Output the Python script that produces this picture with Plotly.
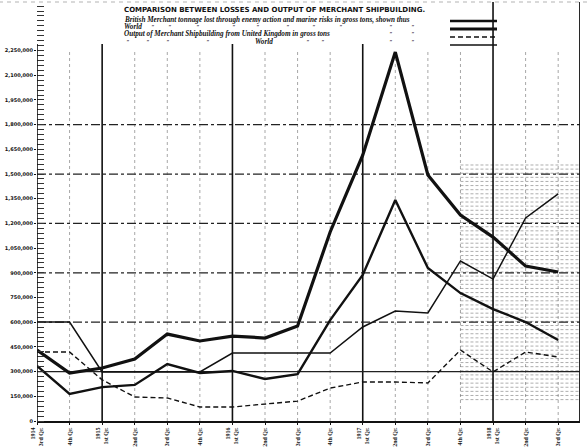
import plotly.graph_objects as go

# ---------------- data (gross tons, per quarter) ----------------
quarter_labels = ["1914<br>3rd Qr.", "4th Qr.", "1915<br>1st Qr.", "2nd Qr.", "3rd Qr.", "4th Qr.",
                  "1916<br>1st Qr.", "2nd Qr.", "3rd Qr.", "4th Qr.",
                  "1917<br>1st Qr.", "2nd Qr.", "3rd Qr.", "4th Qr.",
                  "1918<br>1st Qr.", "2nd Qr.", "3rd Qr."]
quarter_pos = list(range(len(quarter_labels)))

world_losses = [431000, 291000, 322000, 377000, 528000, 486000, 516000, 504000, 577000,
                1148000, 1615000, 2241000, 1494000, 1251000, 1117000, 941000, 905000]
british_losses = [334000, 164000, 206000, 219000, 346000, 292000, 304000, 255000, 285000,
                  613000, 887000, 1342000, 929000, 777000, 680000, 601000, 492000]
world_output = [601000, 601000, 298000, 298000, 298000, 298000, 413000, 413000, 413000,
                413000, 571000, 668000, 656000, 972000, 862000, 1233000, 1379000]
uk_output = [419000, 419000, 250000, 146000, 140000, 85000, 85000, 103000, 121000,
             200000, 237000, 237000, 231000, 431000, 298000, 419000, 389000]

y_tick_vals = [0, 150000, 300000, 450000, 600000, 750000, 900000, 1050000, 1200000,
               1350000, 1500000, 1650000, 1800000, 1950000, 2100000, 2250000]
y_tick_text = ["0", "150,000", "300,000", "450,000", "600,000", "750,000", "900,000", "1,050,000",
               "1,200,000", "1,350,000", "1,500,000", "1,650,000", "1,800,000", "1,950,000",
               "2,100,000", "2,250,000"]
grid_vals = [300000, 600000, 900000, 1200000, 1500000, 1800000]
year_pos = [2, 6, 10, 14]

X_MAX = 16.67
Y_MAX = 2545000
W, H = 587, 447
ML, MR, MT, MB = 37, 7, 2, 26

def px(x):
    return (x - ML) / (W - ML - MR)

def py(y):
    return (H - MB - y) / (H - MB - MT)

fig = go.Figure()

fig.add_trace(go.Scatter(x=quarter_pos, y=world_losses, mode="lines",
                         line=dict(color="#111", width=3.2), name="World losses"))
fig.add_trace(go.Scatter(x=quarter_pos, y=british_losses, mode="lines",
                         line=dict(color="#111", width=2.4), name="British losses"))
fig.add_trace(go.Scatter(x=quarter_pos, y=world_output, mode="lines",
                         line=dict(color="#111", width=1.5), name="World output"))
fig.add_trace(go.Scatter(x=quarter_pos, y=uk_output, mode="lines",
                         line=dict(color="#111", width=1.4, dash="5px,3px"), name="UK output"))

shapes = []
# faint ruled texture in the 1918 region
v = 130000
while v < 1560000:
    shapes.append(dict(type="line", xref="x", yref="y", x0=13.0, x1=X_MAX, y0=v, y1=v,
                       line=dict(color="rgba(0,0,0,0.32)", width=1, dash="3px,2px"), layer="below"))
    v += 25000
# quarter grid lines
for q in quarter_pos:
    if q in year_pos or q == 0:
        continue
    shapes.append(dict(type="line", xref="x", yref="y", x0=q, x1=q, y0=0, y1=2250000,
                       line=dict(color="rgba(0,0,0,0.35)", width=1, dash="dot"), layer="below"))
# horizontal grid lines
for g in grid_vals:
    shapes.append(dict(type="line", xref="x", yref="y", x0=0, x1=X_MAX, y0=g, y1=g,
                       line=dict(color="#222", width=1.2,
                                 dash="solid" if g == 300000 else "dashdot"), layer="below"))
# year lines
for q in year_pos:
    top = 1.0 if q == 14 else 0.9
    shapes.append(dict(type="line", xref="x", yref="paper", x0=q, x1=q, y0=0, y1=top,
                       line=dict(color="#111", width=1.6), layer="below"))
# right border and y axis line
shapes.append(dict(type="line", xref="x", yref="paper", x0=X_MAX, x1=X_MAX, y0=0, y1=1,
                   line=dict(color="#111", width=1.8)))
shapes.append(dict(type="line", xref="x", yref="y", x0=0, x1=0, y0=0, y1=2290000,
                   line=dict(color="#111", width=1.6)))
# faint top edge
shapes.append(dict(type="line", xref="paper", yref="paper", x0=-0.07, x1=1.02, y0=py(2), y1=py(2),
                   line=dict(color="rgba(0,0,0,0.3)", width=1, dash="4px,4px")))

# legend samples
legend_rows = [(21, 2.4, "solid"), (29, 3.2, "solid"), (37, 1.4, "5px,3px"), (45, 1.5, "solid")]
for yy, wdt, dsh in legend_rows:
    shapes.append(dict(type="line", xref="paper", yref="paper", x0=px(450), x1=px(497),
                       y0=py(yy), y1=py(yy), line=dict(color="#111", width=wdt, dash=dsh)))

annotations = []
serif = dict(family="Liberation Serif", size=7.2, color="#111", weight="bold", style="italic")
annotations.append(dict(xref="paper", yref="paper", x=px(122), y=py(10), xanchor="left", yanchor="middle",
                        showarrow=False,
                        text="COMPARISON BETWEEN LOSSES AND OUTPUT OF MERCHANT SHIPBUILDING.",
                        font=dict(family="DejaVu Sans", size=7, color="#111", weight="bold")))
annotations.append(dict(xref="paper", yref="paper", x=px(122), y=py(20), xanchor="left", yanchor="middle",
                        showarrow=False, font=serif,
                        text="British Merchant tonnage lost through enemy action and marine risks in gross tons, shown thus"))
annotations.append(dict(xref="paper", yref="paper", x=px(122), y=py(27), xanchor="left", yanchor="middle",
                        showarrow=False, font=serif, text="World"))
annotations.append(dict(xref="paper", yref="paper", x=px(122), y=py(34), xanchor="left", yanchor="middle",
                        showarrow=False, font=serif,
                        text="Output of Merchant Shipbuilding from United Kingdom in gross tons"))
annotations.append(dict(xref="paper", yref="paper", x=px(253), y=py(42), xanchor="left", yanchor="middle",
                        showarrow=False, font=serif, text="World"))
ditto_font = dict(family="Liberation Serif", size=6, color="#111", weight="bold", style="italic")
ditto_rows = {27: [152, 169, 197, 233, 257, 287, 313, 340, 390, 412],
              34: [390, 412],
              42: [127, 147, 167, 207, 307, 322, 390, 412]}
for yy, xs in ditto_rows.items():
    for xx in xs:
        annotations.append(dict(xref="paper", yref="paper", x=px(xx), y=py(yy), xanchor="center",
                                yanchor="middle", showarrow=False, text='"', font=ditto_font))

fig.update_layout(
    width=W, height=H,
    margin=dict(l=ML, r=MR, t=MT, b=MB, autoexpand=False),
    paper_bgcolor="white", plot_bgcolor="white",
    showlegend=False,
    shapes=shapes, annotations=annotations,
    xaxis=dict(range=[0, X_MAX], tickvals=quarter_pos, ticktext=quarter_labels, tickangle=-90,
               automargin=False,
               showgrid=False, zeroline=False, showline=True, linecolor="#111", linewidth=2,
               ticks="outside", ticklen=2, tickcolor="#111",
               tickfont=dict(family="Liberation Serif", size=6, color="#111", weight="bold")),
    yaxis=dict(range=[0, Y_MAX], tickvals=y_tick_vals, ticktext=y_tick_text,
               automargin=False,
               showgrid=False, zeroline=False, showline=False,
               ticks="outside", ticklen=2, tickcolor="#111",
               tickfont=dict(family="DejaVu Sans", size=5, color="#111", weight="bold"),
               minor=dict(ticks="inside", ticklen=7, tickcolor="#333", dtick=30000, tick0=0)),
)

fig.write_html("out.html", config={"displayModeBar": False},
               post_script="document.body.style.margin='0px';document.body.style.overflow='hidden';")
